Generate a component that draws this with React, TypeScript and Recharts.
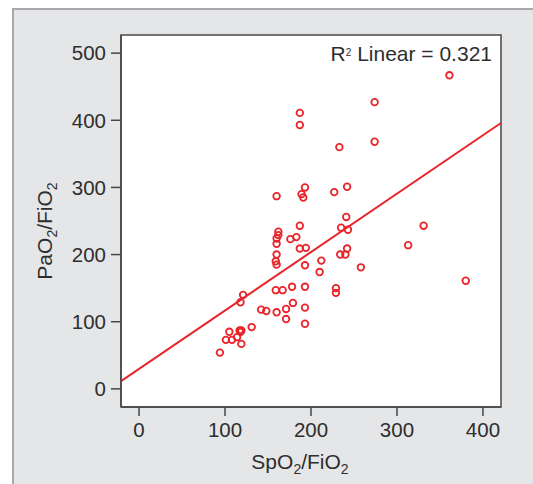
import {
  ScatterChart,
  Scatter,
  XAxis,
  YAxis,
  ReferenceLine,
  ReferenceArea,
} from "recharts";

// SpO2/FiO2 (x) vs PaO2/FiO2 (y)
const SPO2_FIO2 = [
  361, 274, 274, 187, 187, 233,
  193, 189, 191, 227, 242, 160,
  241, 235, 243, 331, 187,
  162, 162, 160, 160, 176, 183,
  187, 194, 313, 160, 234, 240, 242,
  159, 160, 193, 212, 210, 258, 380,
  159, 167, 178, 193, 229, 229,
  179, 193, 171, 142, 148, 160, 171, 193,
  121, 118, 131, 105, 117, 119, 118, 101, 108, 114, 119, 94,
];
const PAO2_FIO2 = [
  467, 427, 368, 411, 393, 360,
  300, 290, 285, 293, 301, 287,
  256, 240, 237, 243, 243,
  234, 229, 224, 216, 223, 226,
  209, 210, 214, 200, 200, 200, 209,
  190, 185, 184, 191, 174, 181, 161,
  147, 147, 152, 152, 150, 143,
  128, 121, 119, 118, 116, 114, 104, 97,
  140, 129, 92, 85, 87, 87, 85, 73, 73, 77, 67, 54,
];

// fit line end points, as drawn at the plot edges
const FIT_X = [-21, 421];
const FIT_Y = [11.5, 396];

const X_TICKS = [0, 100, 200, 300, 400];
const Y_TICKS = [0, 100, 200, 300, 400, 500];
const X_DOMAIN = [-21, 421];
const Y_DOMAIN = [-27, 527];

const RED = "#e8252b";
const AXIS = "#474747";
const TEXT = "#2e2e2e";
const FONT = "'Liberation Sans', Arial, sans-serif";

const points = SPO2_FIO2.map((x, i) => ({ x, y: PAO2_FIO2[i] }));

function Ring(props: any) {
  const { cx, cy } = props;
  if (cx == null || cy == null) return null;
  return <circle cx={cx} cy={cy} r={3.3} fill="none" stroke={RED} strokeWidth={1.8} />;
}

function YLabel() {
  return (
    <text
      transform="translate(52,231) rotate(-90)"
      textAnchor="middle"
      fontSize={21}
      fill={TEXT}
      fontFamily={FONT}
    >
      PaO<tspan dy={5} fontSize={14}>2</tspan>
      <tspan dy={-5}>/FiO</tspan>
      <tspan dy={5} fontSize={14}>2</tspan>
    </text>
  );
}

function XLabel() {
  return (
    <text x={300} y={469} textAnchor="middle" fontSize={21} fill={TEXT} fontFamily={FONT}>
      SpO<tspan dy={5} fontSize={14}>2</tspan>
      <tspan dy={-5}>/FiO</tspan>
      <tspan dy={5} fontSize={14}>2</tspan>
    </text>
  );
}

export default function App() {
  const tick = { fontSize: 20.5, fill: TEXT, fontFamily: FONT };
  return (
    <div style={{ position: "absolute", left: 0, top: 0, width: 533, height: 484, background: "#fff", overflow: "hidden" }}>
      <div
        style={{
          position: "absolute",
          left: 12,
          top: 8,
          width: 540,
          height: 490,
          background: "#e5e6e8",
          borderLeft: "2px solid #a9a9ab",
          borderTop: "2px solid #a9a9ab",
        }}
      />
      <div style={{ position: "absolute", left: 121, top: 35, width: 380, height: 372, background: "#fff" }} />
      <div style={{ position: "absolute", left: 0, top: 0 }}>
        <ScatterChart width={533} height={484} margin={{ top: 35, right: 32, bottom: 17, left: 0 }}>
          <XAxis
            type="number"
            dataKey="x"
            domain={X_DOMAIN}
            ticks={X_TICKS}
            allowDataOverflow
            height={60}
            tickSize={9}
            tickMargin={6}
            tick={tick}
            stroke={AXIS}
            strokeWidth={1.5}
            label={<XLabel />}
          />
          <YAxis
            type="number"
            dataKey="y"
            domain={Y_DOMAIN}
            ticks={Y_TICKS}
            allowDataOverflow
            width={121}
            tickSize={10}
            tickMargin={5}
            tick={tick}
            stroke={AXIS}
            strokeWidth={1.5}
            label={<YLabel />}
          />
          <ReferenceArea
            x1={X_DOMAIN[0]}
            x2={X_DOMAIN[1]}
            y1={Y_DOMAIN[0]}
            y2={Y_DOMAIN[1]}
            fill="none"
            stroke={AXIS}
            strokeWidth={1.5}
            ifOverflow="visible"
          />
          <ReferenceLine
            segment={[
              { x: FIT_X[0], y: FIT_Y[0] },
              { x: FIT_X[1], y: FIT_Y[1] },
            ]}
            stroke={RED}
            strokeWidth={2}
            ifOverflow="visible"
          />
          <Scatter data={points} shape={<Ring />} isAnimationActive={false} />
        </ScatterChart>
      </div>
      <div
        style={{
          position: "absolute",
          right: 533 - 492,
          top: 42,
          fontSize: 21,
          fontFamily: FONT,
          color: TEXT,
          whiteSpace: "nowrap",
          lineHeight: "24px",
        }}
      >
        R<sup style={{ fontSize: 10, verticalAlign: "top", position: "relative", top: -1 }}>2</sup> Linear = 0.321
      </div>
    </div>
  );
}
